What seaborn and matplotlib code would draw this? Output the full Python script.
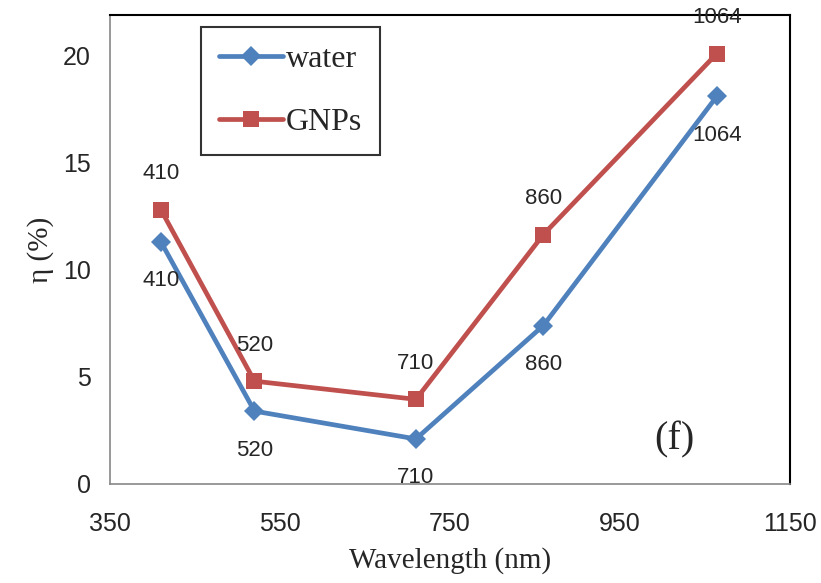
"""
Efficiency vs wavelength, water and GNPs
"""

import matplotlib
matplotlib.use("Agg")
import matplotlib.pyplot as plt
import seaborn as sns

wavelengths = [410, 520, 710, 860, 1064]
water = [11.3, 3.4, 2.1, 7.4, 18.1]
gnps = [12.8, 4.8, 3.95, 11.65, 20.1]
point_labels = ["410", "520", "710", "860", "1064"]

sns.set_theme(style="white")
plt.rcParams["font.family"] = ["Liberation Sans", "DejaVu Sans"]

blue = "#4F81BD"
red = "#C0504D"
serif = ["Liberation Serif", "DejaVu Serif"]

fig = plt.figure(figsize=(8.21, 5.83), dpi=100)
ax = fig.add_axes([0.134, 0.17, 0.828, 0.804])

sns.lineplot(x=wavelengths, y=water, ax=ax, color=blue, lw=3.4,
             marker="D", markersize=10, markeredgewidth=0, label="water")
sns.lineplot(x=wavelengths, y=gnps, ax=ax, color=red, lw=3.4,
             marker="s", markersize=11, markeredgewidth=0, label="GNPs")

# point labels: water below, GNPs above
for x, y, t in zip(wavelengths, water, point_labels):
    ax.annotate(t, (x, y), xytext=(0, -28), textcoords="offset points",
                ha="center", va="center", fontsize=16)
for x, y, t in zip(wavelengths, gnps, point_labels):
    ax.annotate(t, (x, y), xytext=(0, 26), textcoords="offset points",
                ha="center", va="center", fontsize=16)

ax.set_xlim(350, 1150)
ax.set_ylim(0, 21.9)
ax.set_xticks([350, 550, 750, 950, 1150])
ax.set_yticks([0, 5, 10, 15, 20])
ax.tick_params(axis="both", direction="in", length=6, width=1, color="#888888",
               labelsize=18)
ax.tick_params(axis="x", pad=20)
ax.tick_params(axis="y", pad=14)

for side in ["left", "bottom"]:
    ax.spines[side].set_color("#888888")
    ax.spines[side].set_linewidth(1.2)
for side in ["top", "right"]:
    ax.spines[side].set_color("black")
    ax.spines[side].set_linewidth(1.5)

ax.set_xlabel("Wavelength (nm)", family=serif, fontsize=21, labelpad=8)
ax.set_ylabel("η (%)", family=serif, fontsize=21, labelpad=6)

ax.text(0.83, 0.095, "(f)", transform=ax.transAxes, family=serif,
        fontsize=29, ha="center", va="center")

leg = ax.legend(loc="upper left", bbox_to_anchor=(0.134, 0.974),
                borderaxespad=0,
                prop={"family": serif, "size": 23}, frameon=True,
                fancybox=False, edgecolor="black", handlelength=2.0,
                handletextpad=0.1, labelspacing=1.05, borderpad=0.55)
leg.get_frame().set_linewidth(1.5)

fig.savefig("out.png", dpi=100)
